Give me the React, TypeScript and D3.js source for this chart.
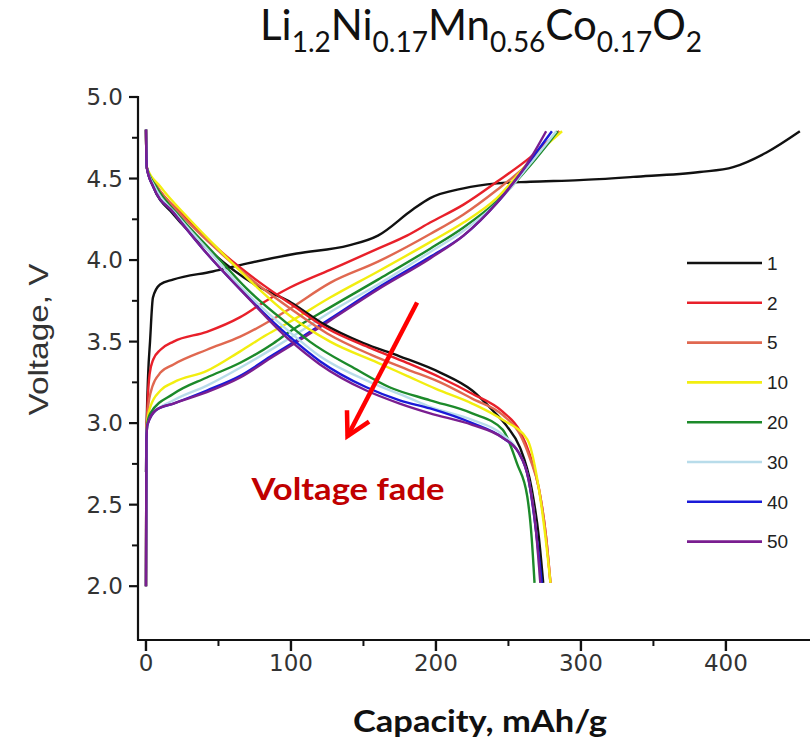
import React from "react";
import * as d3 from "d3";

// ---- data ----
const cycles = ["1", "2", "5", "10", "20", "30", "40", "50"];
const colors = ["#111111", "#e8202a", "#e06850", "#f2ee10", "#1c8a2a", "#b8dcea", "#1a1ad8", "#7a1e90"];

const charge1: [number, number][] = [[0,2.7],[0.5,3.0],[1.5,3.3],[2.8,3.5],[4.8,3.77],[9.7,3.85],[18.6,3.88],[46,3.93],[70,3.98],[104,4.04],[140,4.09],[160,4.15],[184,4.31],[196,4.38],[219,4.44],[242,4.47],[265,4.48],[299,4.49],[336,4.51],[382,4.54],[405,4.57],[428,4.66],[451,4.79]];
const charge2: [number, number][] = [[0,2.0],[0.3,2.9],[1,3.1],[2.5,3.3],[5,3.39],[10,3.45],[19,3.5],[42,3.56],[65,3.65],[81,3.74],[99,3.83],[127,3.94],[160,4.07],[180,4.15],[196,4.23],[219,4.34],[242,4.48],[265,4.63],[285,4.79]];
const charge5: [number, number][] = [[0,2.0],[0.3,2.9],[1,3.05],[3,3.18],[10,3.31],[19,3.36],[42,3.45],[65,3.53],[88,3.64],[99,3.7],[127,3.86],[160,3.99],[196,4.16],[219,4.28],[242,4.43],[265,4.6],[285,4.79]];
const charge10: [number, number][] = [[0,2.0],[0.3,2.9],[1,3.02],[3,3.1],[10,3.2],[19,3.25],[42,3.32],[65,3.44],[83,3.54],[99,3.62],[127,3.77],[160,3.93],[196,4.11],[219,4.23],[242,4.38],[265,4.61],[287,4.79]];
const charge20: [number, number][] = [[0,2.0],[0.3,2.9],[1,3.0],[3,3.06],[19,3.18],[42,3.28],[65,3.37],[88,3.49],[99,3.56],[127,3.71],[160,3.88],[196,4.07],[219,4.2],[242,4.36],[265,4.58],[284,4.79]];
const charge30: [number, number][] = [[0,2.0],[0.3,2.9],[1,2.99],[5,3.06],[19,3.14],[42,3.23],[65,3.34],[88,3.46],[99,3.52],[127,3.68],[160,3.85],[196,4.05],[219,4.18],[242,4.35],[265,4.59],[283,4.79]];
const charge40: [number, number][] = [[0,2.0],[0.3,2.9],[1,2.99],[7,3.08],[19,3.12],[42,3.2],[65,3.29],[88,3.42],[99,3.48],[127,3.64],[160,3.83],[196,4.02],[219,4.15],[242,4.35],[265,4.61],[280,4.79]];
const charge50: [number, number][] = [[0,2.0],[0.3,2.9],[1,2.99],[7,3.08],[19,3.12],[42,3.19],[65,3.28],[88,3.41],[99,3.47],[127,3.63],[160,3.82],[196,4.01],[219,4.15],[242,4.35],[265,4.62],[276,4.79]];

const discharge1: [number, number][] = [[0,4.8],[0.5,4.57],[5,4.45],[19,4.28],[45,4.05],[75,3.85],[100,3.74],[122,3.61],[150,3.49],[175,3.41],[203,3.31],[225,3.2],[240,3.07],[249,2.98],[258,2.85],[266,2.6],[271,2.3],[274,2.02]];
const discharge2: [number, number][] = [[0,4.8],[0.5,4.57],[7,4.46],[25,4.28],[52,4.05],[82,3.84],[100,3.73],[125,3.58],[155,3.46],[180,3.37],[203,3.28],[225,3.18],[246,3.07],[258,2.95],[265,2.8],[271,2.6],[276,2.3],[279,2.02]];
const discharge5: [number, number][] = [[0,4.8],[0.5,4.57],[7,4.46],[25,4.27],[52,4.04],[80,3.83],[100,3.7],[125,3.55],[155,3.42],[180,3.33],[203,3.25],[225,3.15],[246,3.05],[258,2.93],[265,2.78],[271,2.6],[276,2.3],[279,2.02]];
const discharge10: [number, number][] = [[0,4.8],[0.5,4.57],[10,4.45],[30,4.25],[53,4.04],[77,3.83],[99,3.66],[127,3.5],[160,3.37],[180,3.29],[200,3.21],[225,3.12],[246,3.02],[263,2.9],[270,2.65],[275,2.34],[279,2.02]];
const discharge20: [number, number][] = [[0,4.8],[0.5,4.57],[7,4.45],[24,4.26],[47,4.04],[70,3.82],[99,3.6],[113,3.5],[145,3.33],[168,3.22],[196,3.14],[225,3.06],[246,2.96],[256,2.75],[263,2.55],[266,2.3],[268,2.02]];
const discharge30: [number, number][] = [[0,4.8],[0.5,4.57],[6,4.45],[21,4.28],[45,4.04],[67,3.82],[99,3.56],[120,3.41],[155,3.25],[180,3.16],[196,3.1],[225,3.02],[246,2.93],[257,2.82],[264,2.65],[269,2.34],[272,2.02]];
const discharge40: [number, number][] = [[0,4.8],[0.5,4.57],[5,4.45],[19,4.29],[42,4.04],[65,3.82],[99,3.53],[120,3.38],[152,3.22],[175,3.14],[196,3.09],[225,3.0],[246,2.91],[257,2.82],[264,2.65],[269,2.34],[273,2.02]];
const discharge50: [number, number][] = [[0,4.8],[0.5,4.57],[5,4.45],[19,4.29],[42,4.04],[65,3.82],[99,3.51],[120,3.36],[152,3.2],[175,3.12],[196,3.06],[225,2.99],[246,2.91],[257,2.82],[264,2.65],[269,2.34],[272,2.02]];

const charges = [charge1, charge2, charge5, charge10, charge20, charge30, charge40, charge50];
const discharges = [discharge1, discharge2, discharge5, discharge10, discharge20, discharge30, discharge40, discharge50];

const xTicks = [0, 100, 200, 300, 400];
const xMinor = [50, 150, 250, 350];
const yTicks = [2.0, 2.5, 3.0, 3.5, 4.0, 4.5, 5.0];
const yMinor = [2.25, 2.75, 3.25, 3.75, 4.25, 4.75];

// arrow annotation in data coordinates
const arrowFrom: [number, number] = [187, 3.74];
const arrowTo: [number, number] = [139, 2.92];

export default function App() {
  const W = 810, H = 742;
  const x = d3.scaleLinear().domain([-5.5, 458]).range([138, 810]);
  const y = d3.scaleLinear().domain([1.67, 5.0]).range([640, 97]);
  const line = d3.line<[number, number]>().x(d => x(d[0])).y(d => y(d[1])).curve(d3.curveMonotoneX);

  const axisFont = "'DejaVu Sans', 'Liberation Sans', sans-serif";
  const labelFont = "'Liberation Sans', Arial, sans-serif";
  const titleFont = "Lato, 'Open Sans', sans-serif";

  const ax1 = x(arrowFrom[0]), ay1 = y(arrowFrom[1]);
  const ax2 = x(arrowTo[0]), ay2 = y(arrowTo[1]);
  const ang = Math.atan2(ay2 - ay1, ax2 - ax1);
  const hl = 26, ha = 0.5;
  const w1 = [ax2 - hl * Math.cos(ang - ha), ay2 - hl * Math.sin(ang - ha)];
  const w2 = [ax2 - hl * Math.cos(ang + ha), ay2 - hl * Math.sin(ang + ha)];

  const x0 = x.range()[0];
  const yb = y.range()[0];
  const subDy = 12;
  const main = 42, sub = 28;

  return (
    <svg width={W} height={H} style={{ position: "absolute", left: 0, top: 0, background: "#fff" }}>
      <rect width={W} height={H} fill="#fff" />
      {/* title */}
      <text x={481} y={40} textAnchor="middle" fontFamily={titleFont} fontSize={main} fill="#111">
        <tspan>Li</tspan><tspan dy={subDy} fontSize={sub}>1.2</tspan>
        <tspan dy={-subDy}>Ni</tspan><tspan dy={subDy} fontSize={sub}>0.17</tspan>
        <tspan dy={-subDy}>Mn</tspan><tspan dy={subDy} fontSize={sub}>0.56</tspan>
        <tspan dy={-subDy}>Co</tspan><tspan dy={subDy} fontSize={sub}>0.17</tspan>
        <tspan dy={-subDy}>O</tspan><tspan dy={subDy} fontSize={sub}>2</tspan>
      </text>

      {/* curves */}
      {charges.map((c, i) => (
        <path key={"c" + i} d={line(c) || ""} fill="none" stroke={colors[i]} strokeWidth={2.4} strokeLinejoin="round" />
      ))}
      {discharges.map((c, i) => (
        <path key={"d" + i} d={line(c) || ""} fill="none" stroke={colors[i]} strokeWidth={2.4} strokeLinejoin="round" />
      ))}

      {/* axes */}
      <line x1={x0} x2={x0} y1={y(5.0) - 1} y2={yb} stroke="#111" strokeWidth={2.2} />
      <line x1={x0 - 1} x2={810} y1={yb} y2={yb} stroke="#111" strokeWidth={2.2} />
      {yTicks.map(t => (
        <g key={"yt" + t}>
          <line x1={x0 - 9} x2={x0} y1={y(t)} y2={y(t)} stroke="#111" strokeWidth={2.2} />
          <text x={x0 - 15} y={y(t)} dy="0.36em" textAnchor="end" fontFamily={axisFont} fontSize={23} fill="#333">{t.toFixed(1)}</text>
        </g>
      ))}
      {yMinor.map(t => (
        <line key={"ym" + t} x1={x0 - 6} x2={x0} y1={y(t)} y2={y(t)} stroke="#111" strokeWidth={2} />
      ))}
      {xTicks.map(t => (
        <g key={"xt" + t}>
          <line x1={x(t)} x2={x(t)} y1={yb} y2={yb + 11} stroke="#111" strokeWidth={2.4} />
          <text x={x(t)} y={yb + 31} textAnchor="middle" fontFamily={axisFont} fontSize={23} fill="#333">{t}</text>
        </g>
      ))}
      {xMinor.map(t => (
        <line key={"xm" + t} x1={x(t)} x2={x(t)} y1={yb} y2={yb + 6} stroke="#111" strokeWidth={2} />
      ))}

      {/* axis titles */}
      <text transform={`translate(48,${(y(5.0) + yb) / 2 - 29}) rotate(-90)`} textAnchor="middle" fontFamily={labelFont} fontSize={28} textLength={152} lengthAdjust="spacingAndGlyphs" fill="#333">Voltage, V</text>
      <text x={480} y={732} textAnchor="middle" fontFamily={titleFont} fontWeight="bold" fontSize={31} textLength={254} lengthAdjust="spacingAndGlyphs" fill="#111">Capacity, mAh/g</text>

      {/* legend */}
      {cycles.map((c, i) => (
        <g key={"lg" + c} transform={`translate(0,${263 + i * 39.8})`}>
          <line x1={687} x2={762} y1={0} y2={0} stroke={colors[i]} strokeWidth={2.6} />
          <text x={767} y={0} dy="0.36em" fontFamily={labelFont} fontSize={19} fill="#222">{c}</text>
        </g>
      ))}

      {/* annotation */}
      <line x1={ax1} y1={ay1} x2={ax2} y2={ay2} stroke="#ff0000" strokeWidth={4.5} />
      <path d={`M${w1[0]},${w1[1]} L${ax2},${ay2} L${w2[0]},${w2[1]}`} fill="none" stroke="#ff0000" strokeWidth={4.5} strokeLinejoin="miter" />
      <text x={348} y={500} textAnchor="middle" fontFamily={titleFont} fontWeight="bold" fontSize={31} textLength={193} lengthAdjust="spacingAndGlyphs" fill="#c00000">Voltage fade</text>
    </svg>
  );
}
